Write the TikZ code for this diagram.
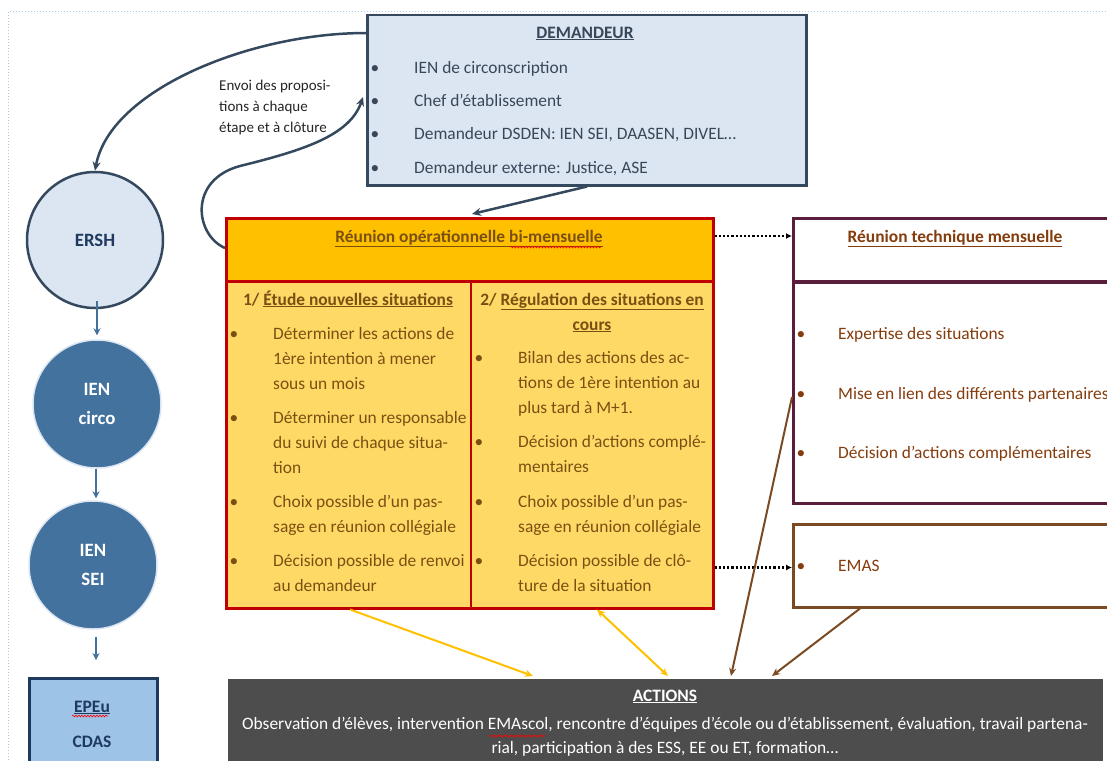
\documentclass[tikz,border=0pt]{standalone}
\usepackage{fontspec}
\setmainfont{Carlito}
\usetikzlibrary{arrows.meta,calc,decorations.pathmorphing}
\definecolor{frameblue}{HTML}{A9C8EA}
\definecolor{lblue}{HTML}{DCE6F2}
\definecolor{slate}{HTML}{34495E}
\definecolor{demtxt}{HTML}{3A4759}
\definecolor{steel}{HTML}{44729E}
\definecolor{halo}{HTML}{DCE6F2}
\definecolor{arrblue}{HTML}{41719C}
\definecolor{epfill}{HTML}{9DC3E6}
\definecolor{navy}{HTML}{1F3A5F}
\definecolor{myorange}{HTML}{FFC000}
\definecolor{lyellow}{HTML}{FFD966}
\definecolor{dred}{HTML}{C00000}
\definecolor{optxt}{HTML}{7A5012}
\definecolor{maroon}{HTML}{5A1E3C}
\definecolor{bbrown}{HTML}{7B4A22}
\definecolor{ttxt}{HTML}{843C0C}
\definecolor{actfill}{HTML}{4D4D4D}
\newcommand\fsBody{\fontsize{17.4}{20}\selectfont}
\newcommand\fsLab{\fontsize{15}{18}\selectfont}
\newcommand\fsCirc{\fontsize{18.8}{29}\selectfont}
\begin{document}
\begin{tikzpicture}[x=1pt,y=-1pt,
  box/.style={draw, rectangle, inner sep=0pt, anchor=north west},
  hd/.style={inner sep=0pt, anchor=base, yshift=-1pt, font=\fsBody\bfseries},
  bl/.style={inner sep=0pt, anchor=base, yshift=-1pt, font=\fsBody},
  tl/.style={inner sep=0pt, anchor=base west, yshift=-1pt, font=\fsBody},
  ctl/.style={inner sep=0pt, anchor=base, yshift=-1pt, font=\fsBody},
  lab/.style={inner sep=0pt, anchor=base west, yshift=-1pt, font=\fsLab, text=black!85},
  curvearr/.style={draw=slate, line width=2.5pt, -{Stealth[length=9pt,width=8pt]}},
  smallarr/.style={draw=arrblue, line width=2pt, -{Stealth[length=7pt,width=7pt]}},
  dotarr/.style={draw=black, line width=2.2pt, dotted, -{Latex[length=6pt,width=6pt]}},
  yarr/.style={draw=myorange, line width=2pt, -{Stealth[length=8pt,width=7pt]}},
  barr/.style={draw=bbrown, line width=2pt, -{Stealth[length=8pt,width=7pt]}},
  squig/.style={draw=red, line width=0.6pt, decorate, decoration={snake, amplitude=0.9pt, segment length=3pt}}
]
\clip (0,0) rectangle (1107,760);
\fill[white] (0,0) rectangle (1107,760);
% page frame
\draw[frameblue, dotted, line width=1pt] (8,760) -- (8,12) -- (1107,12);

% ---------- boxes ----------
\node[box, fill=lblue, draw=slate, line width=2.5pt, minimum width=439pt, minimum height=170pt] (dem) at (366,14) {};
\node[circle, minimum size=136pt, inner sep=0pt, fill=lblue, draw=slate, line width=2.5pt,
      font=\fsCirc\bfseries, text=navy] (ersh) at (95,240) {ERSH};
\node[circle, minimum size=128pt, inner sep=0pt, fill=steel, draw=halo, line width=1.5pt,
      font=\fsCirc\bfseries, text=white, align=center] (circo) at (97,404) {IEN\\circo};
\node[circle, minimum size=128pt, inner sep=0pt, fill=steel, draw=halo, line width=1.5pt,
      font=\fsCirc\bfseries, text=white, align=center] (sei) at (93,565) {IEN\\SEI};
\node[box, fill=epfill, draw=navy, line width=2.5pt, minimum width=128pt, minimum height=100pt] (epeu) at (28,677) {};

\node[box, fill=myorange, draw=dred, line width=2.5pt, minimum width=487pt, minimum height=63pt] (opsh) at (225,217) {};
\node[box, fill=lyellow, draw=dred, line width=2.5pt, minimum width=487pt, minimum height=327pt] (opsb) at (225,280) {};
\draw[dred, line width=2.5pt] ([xshift=246pt]opsb.north west) -- ([xshift=246pt]opsb.south west);

\node[box, fill=white, draw=maroon, line width=2.5pt, minimum width=330pt, minimum height=63pt] (tech) at (792,217) {};
\node[box, fill=white, draw=maroon, line width=2.5pt, minimum width=330pt, minimum height=221pt] (techb) at (792,281) {};
\node[box, fill=white, draw=bbrown, line width=2.5pt, minimum width=330pt, minimum height=83pt] (emas) at (792,523) {};
\node[box, fill=actfill, draw=none, minimum width=875pt, minimum height=100pt] (act) at (228,679) {};

% ---------- texts ----------
% DEMANDEUR
\node[hd, text=demtxt] (demT) at (585,37) {\underline{DEMANDEUR}};
\node[bl, text=demtxt] (db1) at (375,72) {•};
\node[tl, text=demtxt] (dt1) at (414,72) {IEN de circonscription};
\node[bl, text=demtxt] (db2) at (375,105) {•};
\node[tl, text=demtxt] (dt2) at (414,105) {Chef d’établissement};
\node[bl, text=demtxt] (db3) at (375,138) {•};
\node[tl, text=demtxt] (dt3) at (414,138) {Demandeur DSDEN: IEN SEI, DAASEN, DIVEL…};
\node[bl, text=demtxt] (db4) at (375,172) {•};
\node[tl, text=demtxt] (dt4) at (414,172) {Demandeur externe: Justice, ASE};

% label
\node[lab] (lab1) at (219,89) {Envoi des proposi-};
\node[lab] (lab2) at (219,110) {tions à chaque};
\node[lab] (lab3) at (219,131) {étape et à clôture};

% EPEu
\node[hd, font=\fontsize{17.5}{20}\selectfont\bfseries, text=navy] (ep1) at (92,711) {\underline{EPEu}};
\node[hd, font=\fontsize{17.5}{20}\selectfont\bfseries, text=navy] (ep2) at (92,746) {CDAS};

% operational meeting
\node[hd, text=optxt] (opsT) at (469,241) {\underline{Réunion opérationnelle bi-mensuelle}};
\node[hd, text=optxt] (c1T) at (348,304) {1/ \underline{Étude nouvelles situations}};
\node[bl, text=optxt] (lb1) at (234,338) {•};
\node[tl, text=optxt] (l1a) at (273,338) {Déterminer les actions de};
\node[tl, text=optxt] (l1b) at (273,363) {1ère intention à mener};
\node[tl, text=optxt] (l1c) at (273,388) {sous un mois};
\node[bl, text=optxt] (lb2) at (234,422) {•};
\node[tl, text=optxt] (l2a) at (273,422) {Déterminer un responsable};
\node[tl, text=optxt] (l2b) at (273,447) {du suivi de chaque situa-};
\node[tl, text=optxt] (l2c) at (273,472) {tion};
\node[bl, text=optxt] (lb3) at (234,506) {•};
\node[tl, text=optxt] (l3a) at (273,506) {Choix possible d’un pas-};
\node[tl, text=optxt] (l3b) at (273,531) {sage en réunion collégiale};
\node[bl, text=optxt] (lb4) at (234,565) {•};
\node[tl, text=optxt] (l4a) at (273,565) {Décision possible de renvoi};
\node[tl, text=optxt] (l4b) at (273,590) {au demandeur};

\node[hd, text=optxt] (c2T) at (592,304) {2/ \underline{Régulation des situations en}};
\node[hd, text=optxt] (c2T2) at (592,329) {\underline{cours}};
\node[bl, text=optxt] (rb1) at (479,362) {•};
\node[tl, text=optxt] (r1a) at (518,362) {Bilan des actions des ac-};
\node[tl, text=optxt] (r1b) at (518,387) {tions de 1ère intention au};
\node[tl, text=optxt] (r1c) at (518,412) {plus tard à M+1.};
\node[bl, text=optxt] (rb2) at (479,446) {•};
\node[tl, text=optxt] (r2a) at (518,446) {Décision d’actions complé-};
\node[tl, text=optxt] (r2b) at (518,471) {mentaires};
\node[bl, text=optxt] (rb3) at (479,506) {•};
\node[tl, text=optxt] (r3a) at (518,506) {Choix possible d’un pas-};
\node[tl, text=optxt] (r3b) at (518,531) {sage en réunion collégiale};
\node[bl, text=optxt] (rb4) at (479,565) {•};
\node[tl, text=optxt] (r4a) at (518,565) {Décision possible de clô-};
\node[tl, text=optxt] (r4b) at (518,590) {ture de la situation};

% technical meeting
\node[hd, text=ttxt] (techT) at (955,241) {\underline{Réunion technique mensuelle}};
\node[bl, text=ttxt] (tb1) at (801,338) {•};
\node[tl, text=ttxt] (t1) at (838,338) {Expertise des situations};
\node[bl, text=ttxt] (tb2) at (801,398) {•};
\node[tl, text=ttxt] (t2) at (838,398) {Mise en lien des différents partenaires};
\node[bl, text=ttxt] (tb3) at (801,457) {•};
\node[tl, text=ttxt] (t3) at (838,457) {Décision d’actions complémentaires};
\node[bl, text=ttxt] (eb1) at (801,570) {•};
\node[tl, text=ttxt] (e1) at (838,570) {EMAS};

% actions
\node[hd, text=white] (actT) at (665,700) {\underline{ACTIONS}};
\node[ctl, text=white] (act1) at (665,728) {Observation d’élèves, intervention EMAscol, rencontre d’équipes d’école ou d’établissement, évaluation, travail partena-};
\node[ctl, text=white] (act2) at (665,752) {rial, participation à des ESS, EE ou ET, formation…};

% spell-check squiggles
\draw[squig] (510,247) -- (601,247);
\draw[squig] (489,736) -- (545,736);
\draw[squig] (72,716) -- (108,716);

% ---------- connectors ----------
\draw[curvearr] ([yshift=-19pt]dem.north west) .. controls (250,33) and (110,90) .. (ersh.north);
\draw[curvearr] ([yshift=-31pt]opsh.north west) .. controls (195,235) and (188,180) .. (240,166)
   .. controls (305,150) and (350,135) .. ([xshift=-3pt,yshift=-83pt]dem.north west);
\draw[curvearr] ([xshift=221pt]dem.south west) -- ([xshift=247pt,yshift=3pt]opsh.north west);

\draw[smallarr] ([yshift=8pt]circo.north |- ersh.south) -- ([yshift=4pt]circo.north);
\draw[smallarr] ([xshift=-1pt]circo.south) -- ([xshift=-1pt,yshift=2pt]circo.south |- sei.north);
\draw[smallarr] ([xshift=3pt,yshift=-7pt]sei.south) -- ([xshift=3pt,yshift=17pt]sei.south |- epeu.north);

\draw[dotarr] ([yshift=-19pt]opsh.north east) -- ([yshift=-19pt]tech.north west);
\draw[dotarr] ([yshift=42pt]opsb.south east) -- ([yshift=41pt]emas.south west);

\draw[yarr] ([xshift=125pt]opsb.south west) -- ([xshift=305pt,yshift=3pt]act.north west);
\draw[yarr, {Stealth[length=8pt,width=7pt]}-{Stealth[length=8pt,width=7pt]}] ([xshift=372pt]opsb.south west) -- ([xshift=440pt,yshift=3pt]act.north west);

\draw[barr] ([yshift=-116pt]techb.north west) -- ([xshift=503pt,yshift=3pt]act.north west);
\draw[barr] ([xshift=68pt]emas.south west) -- ([xshift=544pt,yshift=3pt]act.north west);
\end{tikzpicture}
\end{document}
